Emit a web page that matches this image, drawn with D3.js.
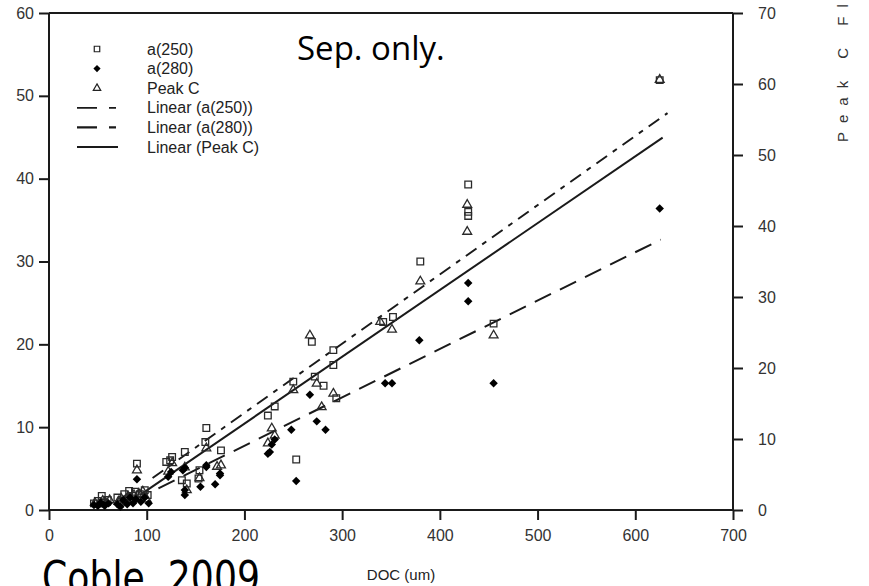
<!DOCTYPE html>
<html><head><meta charset="utf-8">
<script src="https://cdn.jsdelivr.net/npm/d3@7"></script>
<style>html,body{margin:0;padding:0;background:#fff;}svg{display:block;}</style>
</head><body>
<script>
// ---- data ----
const xTicks = [0,100,200,300,400,500,600,700];
const yLeftTicks = [0,10,20,30,40,50,60];
const yRightTicks = [0,10,20,30,40,50,60,70];
const a250 = [[46,0.8],[50,1.1],[54,1.7],[57,0.9],[60,1.2],[70,1.5],[74,1.0],[77,1.9],[80,1.3],[82,2.3],[85,1.7],[88,2.2],[90,5.6],[93,1.9],[98,2.4],[101,1.8],[120,5.8],[124,6.0],[126,6.4],[136,3.6],[139,7.0],[141,3.2],[153,3.8],[154,4.8],[160,8.2],[161,9.9],[176,7.2],[224,11.4],[231,12.5],[250,15.5],[253,6.1],[269,20.3],[272,16.1],[281,15.0],[291,19.3],[291,17.5],[294,13.5],[342,22.7],[352,23.3],[380,30.0],[429,39.3],[429,36.0],[429,35.5],[455,22.5],[625,51.9]];
const a280 = [[46,0.6],[50,0.5],[53,0.9],[57,0.5],[61,0.8],[70,0.7],[73,0.4],[76,1.2],[80,0.7],[83,1.5],[86,0.8],[89,1.3],[90,3.7],[94,1.0],[98,1.5],[102,0.8],[122,4.0],[125,4.6],[137,4.8],[139,5.1],[139,2.4],[139,1.8],[155,2.8],[161,5.4],[161,5.2],[170,3.1],[175,4.2],[175,4.4],[224,6.8],[226,7.0],[228,7.9],[231,8.5],[248,9.7],[253,3.5],[267,13.9],[274,10.7],[283,9.7],[344,15.3],[351,15.3],[379,20.5],[429,27.4],[429,25.2],[455,15.3],[625,36.4]];
const peakC = [[47,1.0],[51,0.8],[55,1.3],[58,1.0],[62,1.4],[71,1.2],[74,1.6],[78,1.4],[81,1.9],[84,1.6],[87,2.1],[90,5.6],[92,2.3],[96,2.6],[100,1.5],[122,5.4],[126,6.6],[139,6.0],[141,2.8],[154,4.5],[161,8.7],[172,6.1],[176,6.3],[224,9.4],[228,11.5],[231,10.5],[250,16.9],[267,24.6],[274,17.8],[279,14.5],[291,16.4],[339,26.5],[351,25.4],[380,32.2],[428,43.0],[428,39.2],[455,24.6],[625,60.6]];
// linear fits: [slope, intercept, xStart, xEnd]
const fitA250 = [0.0836, -5.0, 106, 633];
const fitA280 = [0.0584, -3.92, 112, 626];
const fitPeakC = [0.0941, -6.65, 93, 628];
const legendLabels = ["a(250)","a(280)","Peak C","Linear (a(250))","Linear (a(280))","Linear (Peak C)"];

// ---- drawing ----
const W = 869, H = 586;
const L = 49, R = 733, T = 13, B = 510;
const svg = d3.select("body").append("svg").attr("width",W).attr("height",H);
const x = d3.scaleLinear().domain([0,700]).range([L,R]);
const yL = d3.scaleLinear().domain([0,60]).range([B,T]);
const yR = d3.scaleLinear().domain([0,70]).range([B,T]);
const font = "'Liberation Sans', Arial, sans-serif";
const ink = "#1a1a1a";

// frame top
svg.append("line").attr("x1",L).attr("x2",R).attr("y1",T).attr("y2",T).attr("stroke",ink).attr("stroke-width",2);

const gx = svg.append("g").attr("transform",`translate(0,${B})`)
  .call(d3.axisBottom(x).tickValues(xTicks).tickSize(10).tickPadding(10));
const gyl = svg.append("g").attr("transform",`translate(${L},0)`)
  .call(d3.axisLeft(yL).tickValues(yLeftTicks).tickSize(10).tickPadding(5));
const gyr = svg.append("g").attr("transform",`translate(${R},0)`)
  .call(d3.axisRight(yR).tickValues(yRightTicks).tickSize(10).tickPadding(15));
[gx,gyl,gyr].forEach(g=>{
  g.select(".domain").attr("stroke",ink).attr("stroke-width",2);
  g.selectAll(".tick line").attr("stroke",ink).attr("stroke-width",2);
  g.selectAll(".tick text").attr("fill","#333").attr("font-family",font).attr("font-size",16);
});
gx.select(".domain").attr("d",`M${L},0H${R}`);
gyl.select(".domain").attr("d",`M0,${T}V${B}`);
gyr.select(".domain").attr("d",`M0,${T}V${B}`);

// fit lines
function fitLine(fit, yScale, dash){
  const pts = [fit[2], fit[3]].map(d=>[x(d), yScale(fit[0]*d+fit[1])]);
  svg.append("path").attr("d", d3.line()(pts)).attr("fill","none")
    .attr("stroke",ink).attr("stroke-width",2).attr("stroke-dasharray",dash);
}
fitLine(fitA250, yL, "13,7,5,7");
fitLine(fitA280, yL, "18,10");
fitLine(fitPeakC, yR, null);

// markers
const sq = d3.symbol().type(d3.symbolSquare).size(44);
const di = d3.symbol().type(d3.symbolSquare).size(36);
const tr = d3.symbol().type(d3.symbolTriangle).size(34);
svg.append("g").selectAll("path").data(a250).join("path")
  .attr("d",sq).attr("transform",d=>`translate(${x(d[0])},${yL(d[1])})`)
  .attr("fill","none").attr("stroke","#2a2a2a").attr("stroke-width",1.3);
svg.append("g").selectAll("path").data(peakC).join("path")
  .attr("d",tr).attr("transform",d=>`translate(${x(d[0])},${yR(d[1])})`)
  .attr("fill","none").attr("stroke","#2a2a2a").attr("stroke-width",1.3);
svg.append("g").selectAll("path").data(a280).join("path")
  .attr("d",di).attr("transform",d=>`translate(${x(d[0])},${yL(d[1])}) rotate(45)`)
  .attr("fill","#000");

// legend
const lg = svg.append("g");
const rowY = d3.scalePoint().domain(legendLabels).range([49,147]);
const symX = 97, lineX1 = 77, lineX2 = 118, textX = 147;
lg.append("path").attr("d",d3.symbol().type(d3.symbolSquare).size(30)).attr("transform",`translate(${symX},${rowY(legendLabels[0])})`).attr("fill","none").attr("stroke","#222").attr("stroke-width",1.2);
lg.append("path").attr("d",d3.symbol().type(d3.symbolSquare).size(26)).attr("transform",`translate(${symX},${rowY(legendLabels[1])}) rotate(45)`).attr("fill","#000");
lg.append("path").attr("d",d3.symbol().type(d3.symbolTriangle).size(24)).attr("transform",`translate(${symX},${rowY(legendLabels[2])})`).attr("fill","none").attr("stroke","#222").attr("stroke-width",1.2);
["20,12,7,40","20,12,7,40",null].forEach((d,i)=>{
  lg.append("line").attr("x1",lineX1).attr("x2",lineX2)
    .attr("y1",rowY(legendLabels[3+i])).attr("y2",rowY(legendLabels[3+i]))
    .attr("stroke",ink).attr("stroke-width",i==1?2.4:1.8).attr("stroke-dasharray",d);
});
lg.selectAll("text").data(legendLabels).join("text")
  .attr("x",textX).attr("y",d=>rowY(d)).attr("dy","0.35em")
  .attr("font-family",font).attr("font-size",16).attr("fill","#222").text(d=>d);

// annotations
svg.append("text").attr("x",297).attr("y",60).attr("font-family","'Open Sans', 'Liberation Sans', sans-serif")
  .attr("font-size",33).attr("fill","#000").text("Sep. only.");
svg.append("text").attr("x",401).attr("y",580).attr("text-anchor","middle")
  .attr("font-family","'Liberation Sans Narrow', 'Liberation Sans', sans-serif").attr("font-size",15).attr("fill","#222").text("DOC (um)");
svg.append("text").attr("x",42).attr("y",593)
  .attr("font-family","'DejaVu Sans', sans-serif").attr("font-size",44).attr("fill","#000")
  .attr("textLength",218).attr("lengthAdjust","spacingAndGlyphs").text("Coble, 2009");
svg.append("text").attr("transform","translate(848,142) rotate(-90)")
  .attr("font-family",font).attr("font-size",15).attr("letter-spacing",9).attr("fill","#333").text("Peak C Fluorescence");
</script>
</body></html>
